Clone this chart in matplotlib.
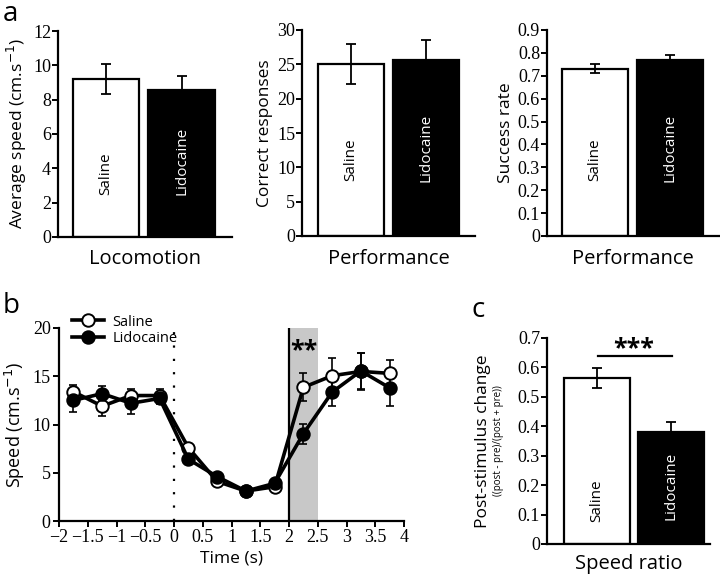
import numpy as np
import matplotlib
matplotlib.use("Agg")
import matplotlib.pyplot as plt

plt.rcParams["font.family"] = ["Open Sans", "DejaVu Sans"]
tick_font = "Liberation Serif"

# -- data --
groups = ["Saline", "Lidocaine"]

loco_mean = [9.2, 8.55]
loco_err = [0.85, 0.85]

resp_mean = [25.0, 25.7]
resp_err = [2.9, 2.8]

rate_mean = [0.73, 0.77]
rate_err = [0.02, 0.02]

ratio_mean = [0.564, 0.38]
ratio_err = [0.034, 0.035]

time = [-1.75, -1.25, -0.75, -0.25, 0.25, 0.75, 1.25, 1.75, 2.25, 2.75, 3.25, 3.75]
speed_saline = [13.4, 11.9, 13.0, 13.0, 7.6, 4.1, 3.1, 3.55, 13.85, 15.05, 15.5, 15.3]
err_saline = [0.7, 1.0, 0.7, 0.7, 0.4, 0.3, 0.3, 0.3, 1.45, 1.8, 1.9, 1.4]
speed_lido = [12.5, 13.2, 12.2, 12.7, 6.4, 4.6, 3.1, 3.9, 9.05, 13.35, 15.55, 13.8]
err_lido = [1.2, 0.8, 1.1, 0.6, 0.5, 0.3, 0.3, 0.3, 1.05, 1.45, 1.9, 1.85]

W, H = 720, 576
fig = plt.figure(figsize=(7.2, 5.76), dpi=100)


def px_axes(l, r, t, b):
    return fig.add_axes([l / W, 1 - b / H, (r - l) / W, (b - t) / H])


def style_axes(ax):
    ax.spines["top"].set_visible(False)
    ax.spines["right"].set_visible(False)
    ax.spines["left"].set_linewidth(1.6)
    ax.spines["bottom"].set_linewidth(1.6)
    ax.tick_params(labelfontfamily=tick_font, labelsize=13)


def bar_panel(ax, means, errs, ymax, step, ylabel, xlabel, xlim, txt_y):
    ax.bar([0, 1], means, width=0.88, color=["white", "black"],
           edgecolor="black", linewidth=1.6, zorder=2)
    ax.errorbar([0, 1], means, yerr=errs, fmt="none", ecolor="black",
                elinewidth=1.3, capsize=3.5, capthick=1.3, zorder=3)
    ax.set_xlim(*xlim)
    ax.set_ylim(0, ymax)
    ax.set_yticks(np.arange(0, ymax + step / 2, step))
    ax.yaxis.set_major_formatter(matplotlib.ticker.FormatStrFormatter("%g"))
    ax.set_xticks([])
    ax.tick_params(axis="y", direction="out", length=4, width=1.4, pad=1)
    ax.set_ylabel(ylabel, fontsize=12.5, labelpad=3)
    ax.set_xlabel(xlabel, fontsize=14.5, labelpad=9)
    ax.text(0, txt_y[0], groups[0], rotation=90, ha="center", va="center",
            fontsize=11, color="black", transform=ax.get_xaxis_transform())
    ax.text(1, txt_y[1], groups[1], rotation=90, ha="center", va="center",
            fontsize=11, color="white", transform=ax.get_xaxis_transform())
    style_axes(ax)


# -- panel a --
ax1 = px_axes(58, 232, 31, 237)
bar_panel(ax1, loco_mean, loco_err, 12, 2, "Average speed (cm.s$^{-1}$)",
          "Locomotion", (-0.64, 1.67), (0.305, 0.37))

ax2 = px_axes(302, 475, 30, 236)
bar_panel(ax2, resp_mean, resp_err, 30, 5, "Correct responses",
          "Performance", (-0.65, 1.66), (0.37, 0.43))

ax3 = px_axes(547, 719, 30, 236)
bar_panel(ax3, rate_mean, rate_err, 0.9, 0.1, "Success rate",
          "Performance", (-0.64, 1.65), (0.37, 0.43))

# -- panel b --
axb = px_axes(59, 404, 328, 521)
axb.axvspan(2, 2.5, color="#c8c8c8", lw=0, zorder=0)
axb.axvline(2, color="black", lw=1.6, zorder=1)
axb.axvline(0, color="black", lw=1.6, ls=(0, (1, 5)), zorder=1)
axb.errorbar(time, speed_saline, yerr=err_saline, fmt="none", ecolor="black",
             elinewidth=1.2, capsize=3, capthick=1.2, zorder=2)
axb.errorbar(time, speed_lido, yerr=err_lido, fmt="none", ecolor="black",
             elinewidth=1.2, capsize=3, capthick=1.2, zorder=2)
axb.plot(time, speed_saline, color="black", lw=2.6, marker="o", ms=9,
         mfc="white", mec="black", mew=1.4, label="Saline", zorder=3)
axb.plot(time, speed_lido, color="black", lw=2.6, marker="o", ms=9,
         mfc="black", mec="black", mew=1.4, label="Lidocaine", zorder=4)
axb.text(2.25, 17.6, "**", ha="center", va="center", fontsize=18,
         fontweight="bold")
axb.set_xlim(-2, 4)
axb.set_ylim(0, 20)
axb.set_xticks(np.arange(-2, 4.01, 0.5))
axb.set_xticklabels(["\u22122", "\u22121.5", "\u22121", "\u22120.5", "0", "0.5", "1",
                     "1.5", "2", "2.5", "3", "3.5", "4"])
axb.set_yticks([0, 5, 10, 15, 20])
axb.tick_params(direction="out", length=4, width=1.4, pad=2)
axb.set_ylabel("Speed (cm.s$^{-1}$)", fontsize=13, labelpad=4)
axb.set_xlabel("Time (s)", fontsize=12.5, labelpad=3)
style_axes(axb)
leg = axb.legend(loc="upper left", bbox_to_anchor=(0.02, 1.1), frameon=False,
                 fontsize=10.5, handlelength=2.2, handletextpad=0.6,
                 labelspacing=0.1, borderaxespad=0)

# -- panel c --
axc = px_axes(547, 710, 338, 544)
axc.bar([0, 1], ratio_mean, width=0.89, color=["white", "black"],
        edgecolor="black", linewidth=1.6, zorder=2)
axc.errorbar([0, 1], ratio_mean, yerr=ratio_err, fmt="none", ecolor="black",
             elinewidth=1.3, capsize=3.5, capthick=1.3, zorder=3)
axc.plot([0.02, 1.01], [0.638, 0.638], color="black", lw=1.6)
axc.text(0.5, 0.665, "***", ha="center", va="center", fontsize=18,
         fontweight="bold")
axc.set_xlim(-0.67, 1.52)
axc.set_ylim(0, 0.7)
axc.set_yticks(np.arange(0, 0.71, 0.1))
axc.yaxis.set_major_formatter(matplotlib.ticker.FormatStrFormatter("%g"))
axc.set_xticks([])
axc.tick_params(axis="y", direction="out", length=4, width=1.4, pad=1)
axc.set_xlabel("Speed ratio", fontsize=14.5, labelpad=7)
axc.text(-0.39, 0.5, "Post-stimulus change", rotation=90, ha="center",
         va="center", fontsize=12.5, transform=axc.transAxes)
axc.text(-0.30, 0.5, "((post - pre)/(post + pre))", rotation=90, ha="center",
         va="center", fontsize=7, transform=axc.transAxes)
axc.text(0, 0.21, groups[0], rotation=90, ha="center", va="center",
         fontsize=11, transform=axc.get_xaxis_transform())
axc.text(1, 0.28, groups[1], rotation=90, ha="center", va="center",
         fontsize=11, color="white", transform=axc.get_xaxis_transform())
style_axes(axc)

# panel letters
fig.text(3 / W, 1 - 21 / H, "a", fontsize=20, va="baseline", ha="left")
fig.text(3 / W, 1 - 313 / H, "b", fontsize=20, va="baseline", ha="left")
fig.text(478 / W, 1 - 317 / H, "c", fontsize=20, va="baseline", ha="center")

fig.savefig("out.png", dpi=100)
